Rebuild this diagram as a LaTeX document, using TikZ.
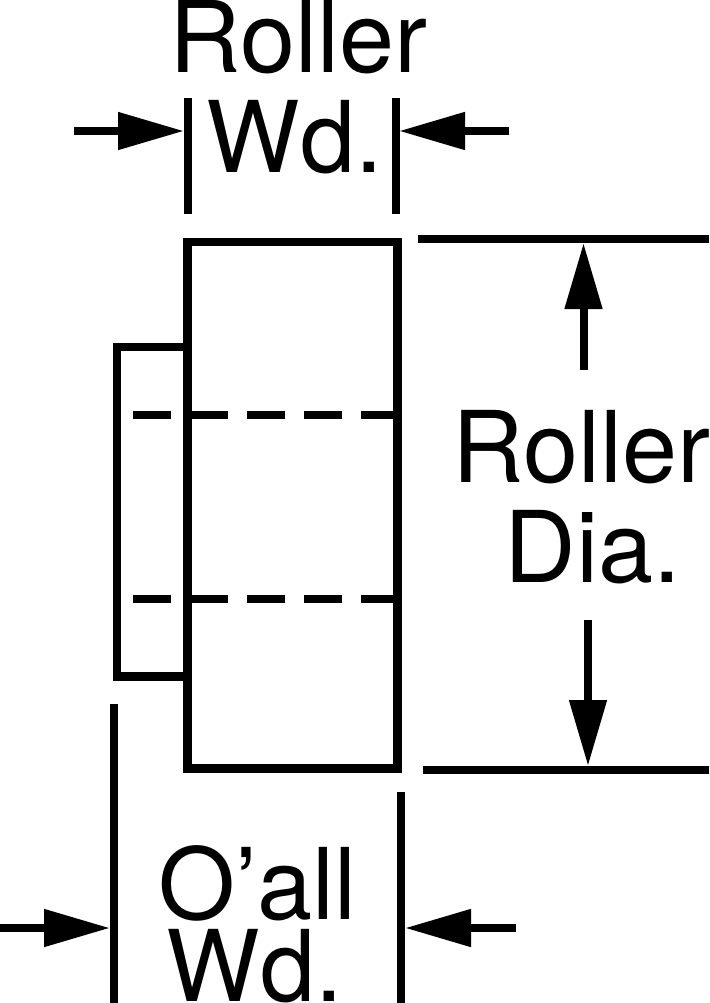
\documentclass[tikz,border=0pt]{standalone}
\usepackage{fontspec}
\setmainfont{TeX Gyre Heros}
\usetikzlibrary{arrows.meta, positioning}
\tikzset{
	part/.style = {rectangle, draw = black, line width = 8.5pt, inner sep = 0pt, outer sep = 0pt},
	label/.style = {anchor = base, font = \fontsize{99}{99}\selectfont, inner sep = 0pt},
	extline/.style = {draw = black, line width = 8pt},
	hidden/.style = {draw = black, line width = 8.5pt, dash pattern = on 38pt off 19pt},
	arrow/.style = {-{Triangle[length = 66pt, width = 36pt]}, draw = black, line width = 8pt}
}
\begin{document}
\begin{tikzpicture}[x = 1pt, y = 1pt]
	\useasboundingbox (0,0) rectangle (709,-1003);

	% body
	\node (hub) [part, minimum width = 70.5pt, minimum height = 329.5pt] at (152.25,-511.75) {};
	\node (roller) [part, minimum width = 210pt, minimum height = 526.5pt] at (292.5,-505.25) {};

	% hidden bore
	\coordinate (boretopl) at (133,-415);
	\coordinate (boretopr) at (393,-415);
	\coordinate (borebotl) at (133,-599);
	\coordinate (borebotr) at (393,-599);
	\draw [hidden] (boretopl) -- (boretopr);
	\draw [hidden] (borebotl) -- (borebotr);

	% labels
	\node (rollertxt) [label] at (298.6,-72.5) {Roller};
	\node (wdtxt) [label] at (295,-172) {Wd.};
	\node (rollerdia) [label] at (581.6,-482) {Roller};
	\node (diatxt) [label] at (593,-582) {Dia.};
	\node (oall) [label] at (257,-919) {O’all};
	\node (wdbot) [label] at (255,-1001) {Wd.};

	% extension lines
	\coordinate (wdla) at (188,-98);
	\coordinate (wdlb) at (188,-214);
	\coordinate (wdra) at (396,-98);
	\coordinate (wdrb) at (396,-214);
	\draw [extline] (wdla) -- (wdlb);
	\draw [extline] (wdra) -- (wdrb);
	\coordinate (diata) at (418,-239);
	\coordinate (diatb) at (709,-239);
	\coordinate (diaba) at (423,-770);
	\coordinate (diabb) at (709,-770);
	\draw [extline] (diata) -- (diatb);
	\draw [extline] (diaba) -- (diabb);
	\coordinate (oalla) at (114,-704);
	\coordinate (oallb) at (114,-1003);
	\coordinate (oallc) at (401,-792);
	\coordinate (oalld) at (401,-1003);
	\draw [extline] (oalla) -- (oallb);
	\draw [extline] (oallc) -- (oalld);

	% arrows
	\coordinate (a1) at (74,-131);
	\coordinate (a1e) at (184,-131);
	\coordinate (a2) at (509,-131);
	\coordinate (a2e) at (399,-131);
	\draw [arrow] (a1) -- (a1e);
	\draw [arrow] (a2) -- (a2e);
	\coordinate (a3) at (583.5,-370);
	\coordinate (a3e) at (583.5,-243);
	\coordinate (a4) at (588,-620);
	\coordinate (a4e) at (588,-766);
	\draw [arrow] (a3) -- (a3e);
	\draw [arrow] (a4) -- (a4e);
	\coordinate (a5) at (0,-928);
	\coordinate (a5e) at (110,-928);
	\coordinate (a6) at (516,-928);
	\coordinate (a6e) at (405,-928);
	\draw [arrow] (a5) -- (a5e);
	\draw [arrow] (a6) -- (a6e);
\end{tikzpicture}
\end{document}
